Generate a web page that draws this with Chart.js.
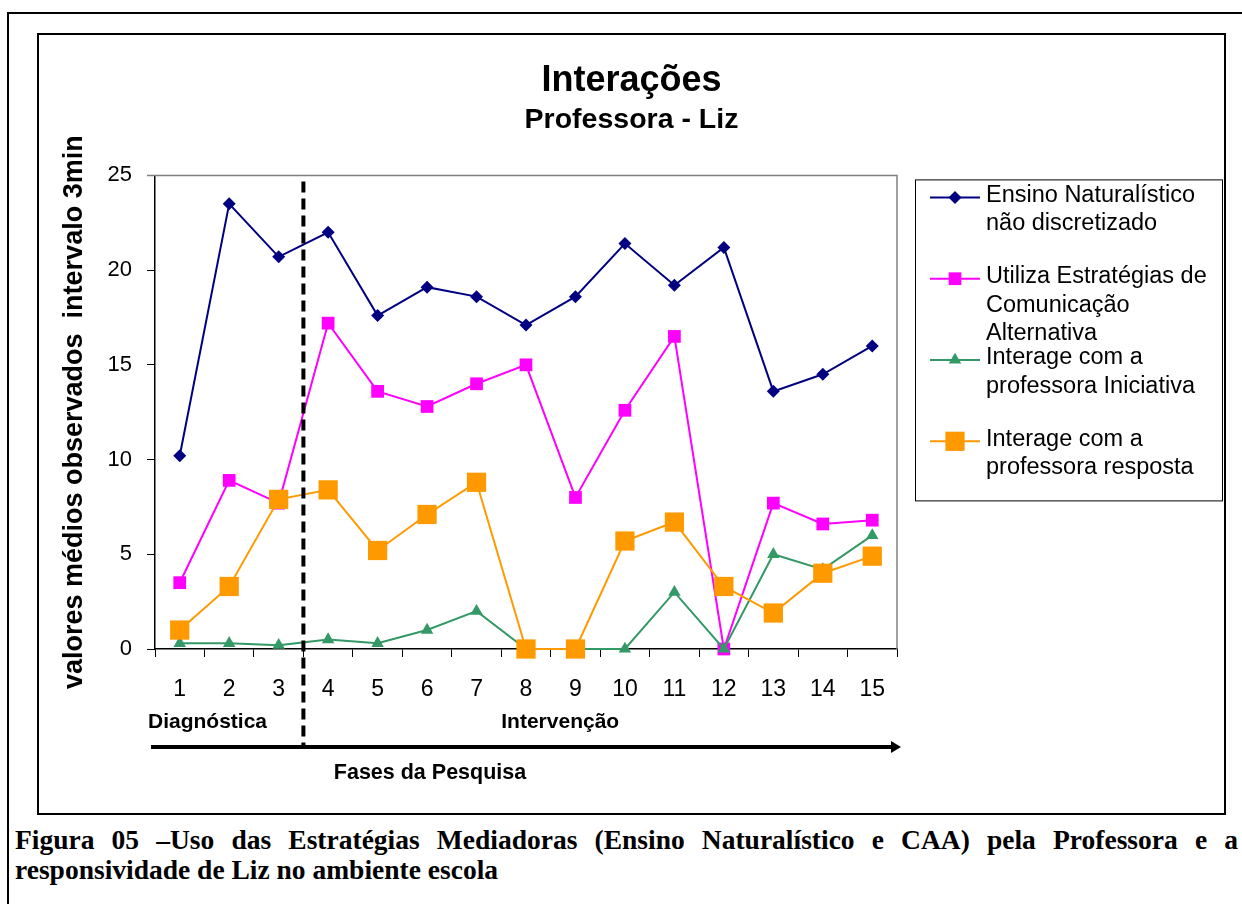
<!DOCTYPE html>
<html>
<head>
<meta charset="utf-8">
<script src="https://cdn.jsdelivr.net/npm/chart.js@4.4.1/dist/chart.umd.min.js"></script>
<style>
  body { margin: 0; background: #fff; width: 1242px; height: 904px; overflow: hidden; position: relative; }
  #outer { position: absolute; left: 7px; top: 12px; width: 1260px; height: 920px; border: 2px solid #000; box-sizing: border-box; }
  #grafico { position: absolute; left: 37px; top: 33px; }
  .legenda { position: absolute; left: 15px; font-family: "Liberation Serif", "Times New Roman", serif; font-weight: bold; font-size: 27.5px; line-height: 30px; color: #000; }
  #leg1 { top: 825px; width: 1223px; text-align: justify; text-align-last: justify; }
  #leg2 { top: 855px; }
</style>
</head>
<body>
<div id="outer"></div>
<canvas id="grafico" width="1189" height="782"></canvas>
<div class="legenda" id="leg1">Figura 05 –Uso das Estratégias Mediadoras (Ensino Naturalístico e CAA) pela Professora e a</div>
<div class="legenda" id="leg2">responsividade de Liz no ambiente escola</div>

<script>
// =========================
// DADOS
// =========================
const sessoes = ["1", "2", "3", "4", "5", "6", "7", "8", "9", "10", "11", "12", "13", "14", "15"];

const ensinoNaturalistico = [10.2, 23.5, 20.7, 22.0, 17.6, 19.1, 18.6, 17.1, 18.6, 21.4, 19.2, 21.2, 13.6, 14.5, 16.0];
const estrategiasCAA      = [3.5, 8.9, 7.7, 17.2, 13.6, 12.8, 14.0, 15.0, 8.0, 12.6, 16.5, 0, 7.7, 6.6, 6.8];
const iniciativa          = [0.3, 0.3, 0.2, 0.5, 0.3, 1.0, 2.0, 0, 0, 0, 3.0, 0, 5.0, 4.2, 6.0];
const resposta            = [1.0, 3.3, 7.9, 8.4, 5.2, 7.1, 8.8, 0, 0, 5.7, 6.7, 3.3, 1.9, 4.0, 4.9];

const nomesSeries = [
    ["Ensino Naturalístico", "não discretizado"],
    ["Utiliza Estratégias de", "Comunicação", "Alternativa"],
    ["Interage com a", "professora Iniciativa"],
    ["Interage com a", "professora resposta"]
];

const fases = ["Diagnóstica", "Intervenção"];
const tituloEixoX = "Fases da Pesquisa";
const tituloEixoY = "valores médios observados  intervalo 3min";

// =========================
// DESENHO DO MARCADOR (legenda)
// =========================
function marcador(ctx, estilo, r, x, y, cor) {
    ctx.save();
    ctx.fillStyle = cor;
    ctx.beginPath();
    if (estilo === "rect") {
        const s = Math.SQRT1_2 * r;
        ctx.rect(x - s, y - s, 2 * s, 2 * s);
    } else if (estilo === "rectRot") {
        ctx.moveTo(x, y - r); ctx.lineTo(x + r, y); ctx.lineTo(x, y + r); ctx.lineTo(x - r, y);
        ctx.closePath();
    } else {
        ctx.moveTo(x, y - r);
        ctx.lineTo(x + Math.sin(2 * Math.PI / 3) * r, y + r / 2);
        ctx.lineTo(x - Math.sin(2 * Math.PI / 3) * r, y + r / 2);
        ctx.closePath();
    }
    ctx.fill();
    ctx.restore();
}

// =========================
// EXTRAS (moldura, fases, legenda)
// =========================
const extras = {
    id: "extras",
    beforeDraw(chart) {
        const ctx = chart.ctx;
        ctx.save();
        ctx.strokeStyle = "#000";
        ctx.lineWidth = 2;
        ctx.strokeRect(1, 1, chart.width - 2, chart.height - 2);
        ctx.restore();
    },
    beforeDatasetsDraw(chart) {
        const { ctx, chartArea: a } = chart;
        ctx.save();
        ctx.strokeStyle = "#808080";
        ctx.lineWidth = 1.5;
        ctx.beginPath();
        ctx.moveTo(a.left - 8, a.top);
        ctx.lineTo(a.right, a.top);
        ctx.lineTo(a.right, a.bottom);
        ctx.stroke();
        ctx.restore();
    },
    afterDraw(chart) {
        const { ctx, chartArea: a } = chart;
        const x = chart.scales.x;
        const corte = (x.getPixelForValue(2) + x.getPixelForValue(3)) / 2;
        ctx.save();

        // linha tracejada entre diagnóstico e intervenção
        ctx.strokeStyle = "#000";
        ctx.lineWidth = 4;
        ctx.setLineDash([11, 6]);
        ctx.beginPath();
        ctx.moveTo(corte, a.top + 6);
        ctx.lineTo(corte, a.bottom + 98);
        ctx.stroke();
        ctx.setLineDash([]);

        // seta
        const ySeta = a.bottom + 98;
        ctx.lineWidth = 4;
        ctx.beginPath();
        ctx.moveTo(a.left - 4, ySeta);
        ctx.lineTo(a.right - 2, ySeta);
        ctx.stroke();
        ctx.fillStyle = "#000";
        ctx.beginPath();
        ctx.moveTo(a.right + 4, ySeta);
        ctx.lineTo(a.right - 6, ySeta - 6);
        ctx.lineTo(a.right - 6, ySeta + 6);
        ctx.closePath();
        ctx.fill();

        // rótulos das fases
        ctx.font = "bold 21px Arial, 'Liberation Sans', sans-serif";
        ctx.textBaseline = "middle";
        ctx.textAlign = "left";
        ctx.fillText(fases[0], a.left - 7, a.bottom + 73);
        ctx.textAlign = "center";
        ctx.fillText(fases[1], (corte + a.right) / 2 - 40, a.bottom + 73);
        ctx.font = "bold 21.5px Arial, 'Liberation Sans', sans-serif";
        ctx.fillText(tituloEixoX, a.left + 275, a.bottom + 124);

        // legenda
        const lx = a.right + 18, ly = a.top + 4, lw = 307, lh = 321;
        ctx.lineWidth = 1;
        ctx.strokeStyle = "#000";
        ctx.strokeRect(lx + 0.5, ly + 0.5, lw, lh);
        ctx.textAlign = "left";
        ctx.font = "23.5px Arial, 'Liberation Sans', sans-serif";
        chart.data.datasets.forEach((ds, i) => {
            const y = ly + 18 + i * 81.3;
            ctx.strokeStyle = ds.borderColor;
            ctx.lineWidth = 2;
            ctx.beginPath();
            ctx.moveTo(lx + 15, y);
            ctx.lineTo(lx + 65, y);
            ctx.stroke();
            marcador(ctx, ds.pointStyle, ds.pointRadius, lx + 40, y, ds.borderColor);
            ctx.fillStyle = "#000";
            nomesSeries[i].forEach((linha, j) => {
                ctx.fillText(linha, lx + 71, y - 2 + j * 28.5);
            });
        });
        ctx.restore();
    }
};

// =========================
// GRÁFICO
// =========================
function serie(i, dados, cor, estilo, raio, ordem) {
    return {
        label: nomesSeries[i].join(" "),
        data: dados,
        borderColor: cor,
        backgroundColor: cor,
        borderWidth: 2,
        pointStyle: estilo,
        pointRadius: raio,
        pointBorderWidth: 0,
        pointBackgroundColor: cor,
        tension: 0,
        clip: false,
        order: ordem
    };
}

const fonte = "Arial, 'Liberation Sans', sans-serif";

new Chart(document.getElementById("grafico"), {
    type: "line",
    data: {
        labels: sessoes,
        datasets: [
            serie(0, ensinoNaturalistico, "#000080", "rectRot", 6.5, 3),
            serie(1, estrategiasCAA, "#FF00FF", "rect", 9, 2),
            serie(2, iniciativa, "#339966", "triangle", 7.2, 1),
            serie(3, resposta, "#FF9900", "rect", 13.6, 0)
        ]
    },
    options: {
        responsive: false,
        animation: false,
        devicePixelRatio: 1,
        layout: { padding: 0 },
        plugins: {
            legend: { display: false },
            tooltip: { enabled: false },
            title: {
                display: true,
                text: "Interações",
                color: "#000",
                font: { family: fonte, size: 36, weight: "bold", lineHeight: 1.2 },
                padding: { top: 26, bottom: 1 }
            },
            subtitle: {
                display: true,
                text: "Professora - Liz",
                color: "#000",
                font: { family: fonte, size: 28.5, weight: "bold", lineHeight: 1.2 },
                padding: { top: 0, bottom: 38 }
            }
        },
        scales: {
            x: {
                type: "category",
                offset: true,
                afterFit: s => { s.height = 166; },
                grid: { offset: true, drawOnChartArea: false, drawTicks: true, tickLength: 8, color: "#000" },
                border: { display: true, color: "#000", width: 1.5 },
                ticks: { color: "#000", font: { family: fonte, size: 23 }, padding: 19, maxRotation: 0, autoSkip: false }
            },
            y: {
                min: 0,
                max: 25,
                afterFit: s => { s.width = 118; },
                ticks: { stepSize: 5, color: "#000", font: { family: fonte, size: 22 }, padding: 15 },
                grid: { drawOnChartArea: false, drawTicks: true, tickLength: 8, color: "#000" },
                border: { display: true, color: "#000", width: 1.5 },
                title: {
                    display: true,
                    text: tituloEixoY,
                    color: "#000",
                    font: { family: fonte, size: 27, weight: "bold", lineHeight: 1.2 },
                    padding: { top: 21, bottom: 0 }
                }
            },
            espaco: {
                type: "linear",
                position: "right",
                display: true,
                afterFit: s => { s.width = 329; },
                grid: { display: false },
                border: { display: false },
                ticks: { display: false }
            }
        }
    },
    plugins: [extras]
});
</script>
</body>
</html>
